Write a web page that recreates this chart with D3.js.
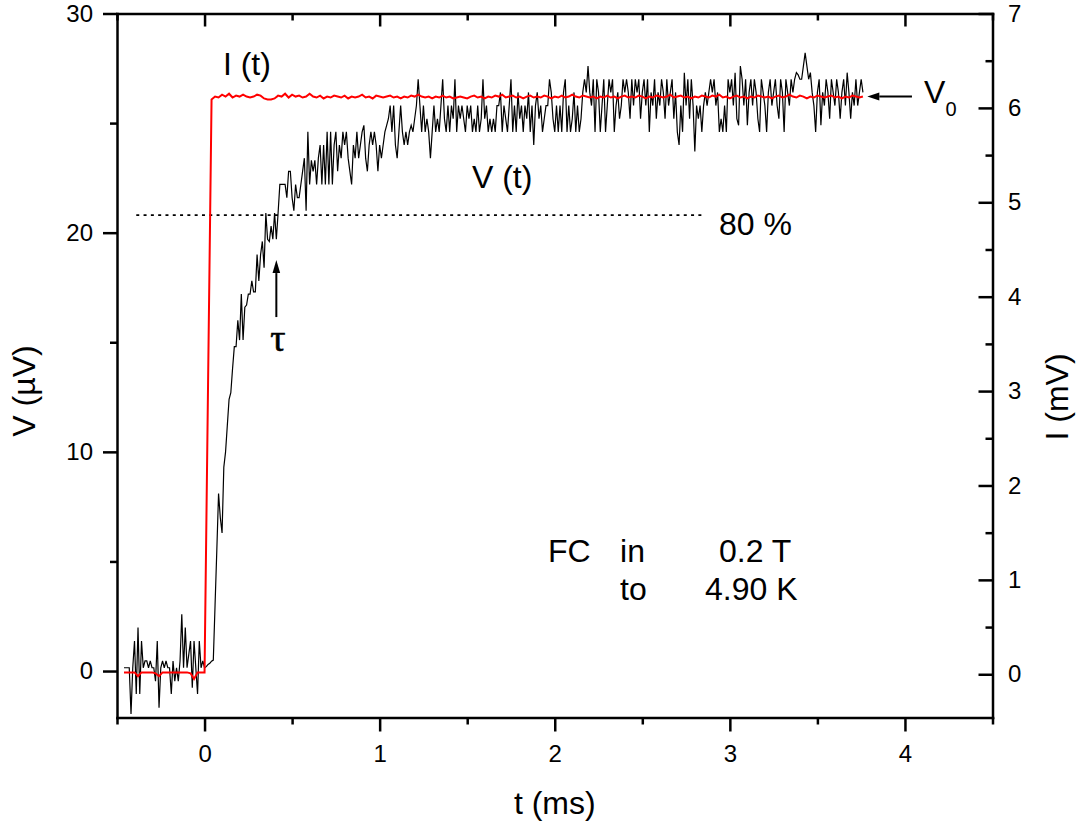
<!DOCTYPE html>
<html>
<head>
<meta charset="utf-8">
<script src="https://cdn.jsdelivr.net/npm/d3@7"></script>
<style>
  html, body { margin: 0; padding: 0; background: #fff; }
  svg { display: block; }
</style>
</head>
<body>
<svg id="chart" width="1078" height="826"></svg>
<script>
"use strict";

// ---------------------------------------------------------------------------
// Data
// ---------------------------------------------------------------------------

// V(t) in µV, sampled every 0.01 ms starting at t = -0.46 ms
const V_T0 = -0.46;
const V_DT = 0.01;

// t = -0.46 .. 0.00 (before the field step)
const vBefore = [
  0.15, 0.15, 0.15, 0.15, -1.96, 0.15, 1.37, -1.05, 1.98, -1.05,
  1.37, 0.15, 0.46, 0.46, 0.15, 0.46, 0.15, 0.15, -0.46, 1.37,
  -1.67, 0.15, 0.46, 0.15, 0.46, 0.15, 0.15, -1.05, 0.46, -0.46,
  0.15, -0.46, 0.46, 2.59, 0.15, 1.98, 0.15, 0.76, 1.37, -0.76,
  1.37, 0.15, -1.05, 1.37, 0.15, 0.46, 0.15
];

// t = 0.01 .. 0.58 (rise)
const vRise = [
  0.2, 0.3, 0.35, 0.45, 0.5, 3.0, 5.5, 8.1, 7.0, 6.3,
  9.3, 10.0, 11.2, 12.4, 12.7, 13.8, 14.8, 14.8, 16.0, 15.1,
  17.2, 15.1, 16.6, 16.7, 17.2, 17.2, 17.8, 17.3, 17.3, 19.0,
  17.8, 19.0, 19.6, 18.4, 20.9, 19.7, 19.6, 20.3, 19.7, 20.9,
  19.7, 20.9, 22.2, 22.2, 22.2, 22.2, 21.6, 22.8, 22.8, 21.6,
  21.0, 22.2, 21.6, 21.6, 22.2, 22.8, 23.4, 21.0
];

// t = 0.59 .. 1.68
const vMid = [
  24.6, 22.2, 23.3, 22.8, 23.3, 22.2, 23.4, 24.0, 22.2, 24.0,
  22.2, 24.6, 22.2, 24.6, 22.2, 24.0, 24.6, 22.8, 24.0, 23.4,
  24.6, 24.0, 24.6, 23.4, 22.8, 22.2, 24.0, 23.4, 24.6, 23.4,
  24.0, 24.6, 24.9, 23.4, 22.8, 24.0, 24.6, 24.0, 24.6, 24.0,
  22.8, 24.0, 23.4, 24.0, 24.6, 24.9, 25.2, 25.8, 24.6, 25.8,
  24.0, 23.4, 24.6, 25.8, 24.6, 24.0, 24.6, 24.0, 24.6, 24.9,
  24.6, 25.2, 25.8, 27.0, 25.8, 24.6, 25.8, 24.6, 25.2, 24.6,
  23.4, 24.6, 25.8, 24.6, 25.2, 24.6, 25.8, 27.0, 25.2, 24.6,
  25.8, 24.6, 25.8, 25.2, 27.0, 24.6, 25.8, 25.2, 25.8, 25.2,
  24.6, 25.8, 25.2, 25.8, 24.6, 25.2, 24.6, 25.8, 24.6, 25.2,
  27.0, 25.2, 25.8, 24.6, 25.2, 24.6, 25.2, 24.6, 25.8, 25.8
];

// t = 1.69 .. 2.71
const vLate = [
  26.4, 24.6, 25.8, 25.2, 24.6, 25.8, 27.0, 24.6, 25.8, 24.6,
  26.4, 25.2, 25.8, 24.6, 25.8, 25.2, 26.4,
  24.6, 25.8, 24.0, 25.8, 26.4, 25.2, 25.8, 24.6, 25.2, 25.8,
  25.8, 27.0, 26.4, 25.2, 24.6, 25.8, 24.6, 25.8, 24.6, 26.4,
  27.0, 24.6, 25.8, 24.6, 25.2, 26.4, 24.6, 25.8, 24.6, 25.2,
  26.4, 27.0, 26.4, 27.6, 26.4, 25.8, 27.0, 24.6, 27.0,
  26.4, 24.6, 25.8, 27.0, 24.6, 25.8, 27.0, 26.4, 27.0, 24.6,
  25.8, 26.4, 25.2, 25.8, 27.0, 26.4, 27.0,
  26.4, 25.2, 27.0, 25.8, 27.0, 26.4, 27.0, 25.2, 26.4, 27.0,
  25.8, 27.0, 24.6, 26.4, 25.8, 27.0, 25.2, 26.4, 25.8, 27.0,
  26.4, 25.2, 27.0, 25.8, 26.4, 27.0, 25.2, 26.4, 24.6, 24.0
];

// t = 2.72 .. 3.76
const vEnd = [
  25.8, 24.6, 27.3, 25.8, 27.0, 25.2, 27.0, 25.8, 23.7, 25.8,
  25.2, 25.8, 24.6, 25.8, 26.4, 25.8, 26.4, 27.0, 26.4, 27.0,
  25.8, 26.4, 24.6, 25.2, 24.6, 25.8, 24.6, 27.0, 26.4, 27.0,
  25.8, 27.3, 25.2, 24.9, 27.6, 27.0, 25.8, 27.0, 24.9, 26.4,
  27.0, 25.8, 27.0, 26.4, 25.2, 24.6, 27.0, 26.4, 25.8, 24.6,
  26.4, 27.0, 25.8, 26.4, 27.0, 25.8, 25.2, 27.0, 26.4, 24.6,
  27.0, 26.4, 25.8, 27.0, 26.4, 27.0, 27.3, 27.2, 27.0, 27.0,
  27.6, 28.2, 27.6, 27.0, 27.3, 26.4, 25.8, 24.6, 26.4, 27.0,
  24.9, 26.4, 25.8, 27.0, 26.4, 25.2, 27.0, 26.4, 25.8, 27.0,
  26.4, 25.2, 26.4, 27.0, 25.8, 27.3, 26.4, 25.2, 26.4, 25.8,
  27.0, 25.8, 26.4, 27.0, 26.4
];

// I(t) in mV, sampled every 0.02 ms starting at t = -0.46 ms
const I_T0 = -0.46;
const I_DT = 0.02;
const iTrace = [
  0.02, 0.02, 0.02, 0.02, -0.02, 0.02, 0.02, 0.02, 0.02, 0.01,
  -0.02, 0.02, 0.02, 0.02, 0.02, 0.02, 0.02, 0.02, 0.02, 0.01,
  -0.05, 0.02, 0.02, 0.02, 3.07, 6.09,
  6.12, 6.11, 6.14, 6.12, 6.15, 6.11, 6.13, 6.12, 6.14, 6.12,
  6.11, 6.12, 6.14, 6.13, 6.10, 6.09, 6.09, 6.10, 6.13, 6.12,
  6.15, 6.11, 6.14, 6.12, 6.13, 6.11, 6.12, 6.15, 6.12, 6.11,
  6.13, 6.10, 6.12, 6.11, 6.13, 6.12, 6.11, 6.13, 6.10, 6.12,
  6.11, 6.12, 6.14, 6.11, 6.12, 6.10, 6.13, 6.12, 6.11, 6.12,
  6.13, 6.11, 6.12, 6.10, 6.12, 6.11, 6.13, 6.12, 6.14, 6.12,
  6.11, 6.12, 6.10, 6.12, 6.11, 6.13, 6.11, 6.12, 6.10, 6.11,
  6.12, 6.11, 6.10, 6.12, 6.13, 6.11, 6.12, 6.10, 6.12, 6.11,
  6.13, 6.12, 6.14, 6.11, 6.12, 6.13, 6.11, 6.12, 6.10, 6.12,
  6.13, 6.11, 6.12, 6.11, 6.13, 6.12, 6.10, 6.12, 6.11, 6.13,
  6.11, 6.12, 6.14, 6.12, 6.11, 6.13, 6.12, 6.11, 6.12, 6.10,
  6.12, 6.11, 6.13, 6.11, 6.12, 6.10, 6.12, 6.13, 6.11, 6.12,
  6.11, 6.13, 6.12, 6.10, 6.12, 6.11, 6.13, 6.12, 6.11, 6.12,
  6.14, 6.11, 6.12, 6.13, 6.11, 6.12, 6.10, 6.12, 6.11, 6.13,
  6.12, 6.11, 6.13, 6.12, 6.14, 6.11, 6.12, 6.10, 6.12, 6.13,
  6.11, 6.12, 6.10, 6.12, 6.11, 6.13, 6.12, 6.11, 6.12, 6.10,
  6.12, 6.13, 6.11, 6.12, 6.14, 6.12, 6.11, 6.13, 6.12, 6.10,
  6.12, 6.11, 6.13, 6.12, 6.11, 6.12, 6.13, 6.11, 6.12, 6.10,
  6.12, 6.11, 6.13, 6.12, 6.11, 6.12
];

// Axis ticks
const tMajor = [0, 1, 2, 3, 4];
const tMinor = [-0.5, 0.5, 1.5, 2.5, 3.5, 4.5];
const vMajor = [0, 10, 20, 30];
const vMinor = [5, 15, 25];
const iMajor = [0, 1, 2, 3, 4, 5, 6, 7];
const iMinor = [0.5, 1.5, 2.5, 3.5, 4.5, 5.5, 6.5];

// 80 % level of V0 and where the dotted guide runs
const level80 = 20.8;
const level80Span = [-0.39, 2.84];
const tauTime = 0.41;
const v0Level = 6.12;   // in mV, right axis

// ---------------------------------------------------------------------------
// Setup
// ---------------------------------------------------------------------------

const FONT = '"Liberation Sans", Arial, sans-serif';
const svg = d3.select("#chart");
const plot = { left: 117, right: 992.5, top: 13.5, bottom: 717.5 };

const x = d3.scaleLinear().domain([-0.5, 4.5]).range([plot.left, plot.right]);
const yV = d3.scaleLinear().domain([-2.12, 30]).range([plot.bottom, plot.top]);
const yI = d3.scaleLinear().domain([-0.458, 7]).range([plot.bottom, plot.top]);

const vTrace = [].concat(vBefore, vRise, vMid, vLate, vEnd)
  .map((v, k) => ({ t: V_T0 + k * V_DT, v }));
const iPoints = iTrace.map((i, k) => ({ t: I_T0 + k * I_DT, i }));

// ---------------------------------------------------------------------------
// Axes
// ---------------------------------------------------------------------------

function styleAxis(g, showDomain) {
  g.attr("font-family", FONT).attr("font-size", 24);
  g.selectAll("path.domain")
    .attr("stroke", "#000")
    .attr("stroke-width", 2.5)
    .attr("stroke-linecap", "square")
    .style("display", showDomain ? null : "none");
  g.selectAll(".tick line").attr("stroke", "#000").attr("stroke-width", 2.5);
  g.selectAll(".tick text").attr("fill", "#000");
}

function addAxis(axis, transform, showDomain) {
  svg.append("g")
    .attr("transform", transform)
    .call(axis)
    .call((g) => styleAxis(g, showDomain));
}

const fmt = d3.format("d");

// bottom (outward ticks, labelled)
addAxis(d3.axisBottom(x).tickValues(tMajor).tickSize(14).tickSizeOuter(0)
  .tickPadding(13.5).tickFormat(fmt), `translate(0,${plot.bottom})`, true);
addAxis(d3.axisBottom(x).tickValues(tMinor).tickSize(7).tickFormat(""),
  `translate(0,${plot.bottom})`, false);

// top (inward ticks, no labels)
addAxis(d3.axisTop(x).tickValues(tMajor).tickSizeInner(-13).tickSizeOuter(0)
  .tickFormat(""), `translate(0,${plot.top})`, true);
addAxis(d3.axisTop(x).tickValues(tMinor).tickSizeInner(-7).tickSizeOuter(0)
  .tickFormat(""), `translate(0,${plot.top})`, false);

// left V axis (outward ticks)
addAxis(d3.axisLeft(yV).tickValues(vMajor).tickSize(14).tickSizeOuter(0)
  .tickPadding(10).tickFormat(fmt), `translate(${plot.left},0)`, true);
addAxis(d3.axisLeft(yV).tickValues(vMinor).tickSize(7).tickFormat(""),
  `translate(${plot.left},0)`, false);

// right I axis (inward ticks)
addAxis(d3.axisRight(yI).tickValues(iMajor).tickSizeInner(-14).tickSizeOuter(0)
  .tickPadding(15.5).tickFormat(fmt), `translate(${plot.right},0)`, true);
addAxis(d3.axisRight(yI).tickValues(iMinor).tickSizeInner(-7).tickSizeOuter(0)
  .tickFormat(""), `translate(${plot.right},0)`, false);

// axis titles
svg.append("text")
  .attr("x", (plot.left + plot.right) / 2)
  .attr("y", 814)
  .attr("text-anchor", "middle")
  .attr("font-family", FONT).attr("font-size", 32)
  .text("t (ms)");

svg.append("text")
  .attr("transform", "translate(35,391) rotate(-90)")
  .attr("text-anchor", "middle")
  .attr("font-family", FONT).attr("font-size", 32)
  .text("V (\u00B5V)");

svg.append("text")
  .attr("transform", "translate(1068,397) rotate(-90)")
  .attr("text-anchor", "middle")
  .attr("font-family", FONT).attr("font-size", 32)
  .text("I (mV)");

// ---------------------------------------------------------------------------
// Traces
// ---------------------------------------------------------------------------

svg.append("line")
  .attr("x1", x(level80Span[0])).attr("x2", x(level80Span[1]))
  .attr("y1", yV(level80)).attr("y2", yV(level80))
  .attr("stroke", "#000")
  .attr("stroke-width", 1.6)
  .attr("stroke-dasharray", "3,4.3");

svg.append("path")
  .datum(vTrace)
  .attr("fill", "none")
  .attr("stroke", "#000")
  .attr("stroke-width", 1.2)
  .attr("stroke-linejoin", "miter")
  .attr("d", d3.line().x((d) => x(d.t)).y((d) => yV(d.v)));

svg.append("path")
  .datum(iPoints)
  .attr("fill", "none")
  .attr("stroke", "#ff0000")
  .attr("stroke-width", 2)
  .attr("d", d3.line().x((d) => x(d.t)).y((d) => yI(d.i)));

// ---------------------------------------------------------------------------
// Annotations
// ---------------------------------------------------------------------------

function arrow(x1, y1, x2, y2, headLen, headHalf) {
  const a = Math.atan2(y2 - y1, x2 - x1);
  const bx = x2 - headLen * Math.cos(a);
  const by = y2 - headLen * Math.sin(a);
  svg.append("line")
    .attr("x1", x1).attr("y1", y1).attr("x2", bx).attr("y2", by)
    .attr("stroke", "#000").attr("stroke-width", 2);
  const px = -Math.sin(a) * headHalf;
  const py = Math.cos(a) * headHalf;
  svg.append("path")
    .attr("d", `M${x2},${y2}L${bx + px},${by + py}L${bx - px},${by - py}Z`)
    .attr("fill", "#000");
}

// tau arrow, pointing up at the 80 % crossing
arrow(x(tauTime), yV(16.15), x(tauTime), yV(18.75), 13, 3.8);
// V0 arrow, pointing left at the plateau
arrow(x(4.04), yI(v0Level), x(3.785), yI(v0Level), 12, 4);

const labels = [
  { t: 0.105, v: 27.19, text: "I (t)" },
  { t: 1.527, v: 22.04, text: "V (t)" },
  { t: 2.938, v: 19.89, text: "80 %" },
  { t: 1.961, v: 4.97, text: "FC" },
  { t: 2.373, v: 4.97, text: "in" },
  { t: 2.938, v: 4.97, text: "0.2 T" },
  { t: 2.373, v: 3.24, text: "to" },
  { t: 2.858, v: 3.24, text: "4.90 K" },
];

svg.append("g")
  .attr("font-family", FONT)
  .attr("font-size", 32)
  .selectAll("text")
  .data(labels)
  .join("text")
  .attr("x", (d) => x(d.t))
  .attr("y", (d) => yV(d.v))
  .text((d) => d.text);

// V0 with subscript
const v0 = svg.append("text")
  .attr("x", x(4.109))
  .attr("y", yV(25.9))
  .attr("font-family", FONT)
  .attr("font-size", 32);
v0.append("tspan").text("V");
v0.append("tspan").attr("dy", 13).attr("font-size", 20).text("0");

// tau
svg.append("text")
  .attr("x", x(0.419))
  .attr("y", yV(14.6))
  .attr("text-anchor", "middle")
  .attr("font-family", '"Liberation Serif", "Times New Roman", serif')
  .attr("font-size", 38)
  .attr("stroke", "#000")
  .attr("stroke-width", 0.6)
  .text("\u03C4");
</script>
</body>
</html>
